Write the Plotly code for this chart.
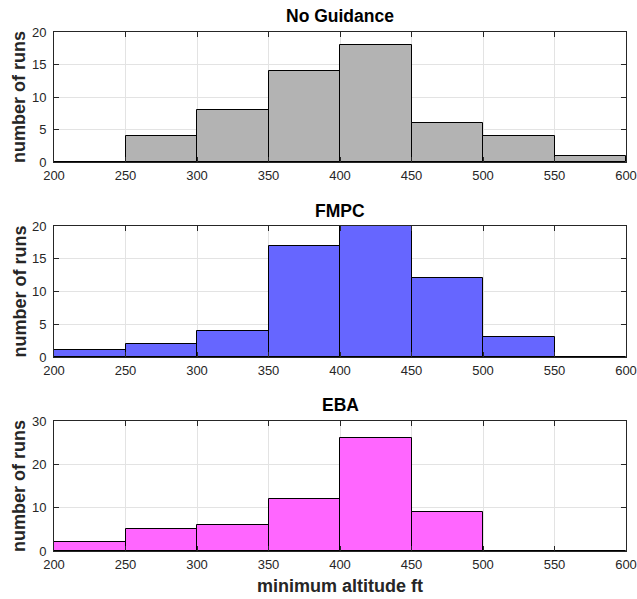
import plotly.graph_objects as go

# Histogram bin edges (minimum altitude, ft) and counts per guidance scheme
bin_edges = [200, 250, 300, 350, 400, 450, 500, 550, 600]
no_guidance_counts = [0, 4, 8, 14, 18, 6, 4, 1]
fmpc_counts = [1, 2, 4, 17, 20, 12, 3, 0]
eba_counts = [2, 5, 6, 12, 26, 9, 0, 0]

titles = ["No Guidance", "FMPC", "EBA"]
fills = ["#b3b3b3", "#6666ff", "#ff66ff"]
y_ranges = [[0, 20], [0, 20], [0, 30]]
y_ticks = [[0, 5, 10, 15, 20], [0, 5, 10, 15, 20], [0, 10, 20, 30]]
x_ticks = [200, 250, 300, 350, 400, 450, 500, 550, 600]

W, H = 637, 599
# plot areas in pixels: (top, bottom), and title centre heights
areas = [(32, 162), (226, 357), (421, 551)]
title_y = [16, 211, 405]
x_left, x_right = 54, 626

centers = [(a + b) / 2 for a, b in zip(bin_edges[:-1], bin_edges[1:])]
widths = [b - a for a, b in zip(bin_edges[:-1], bin_edges[1:])]

fig = go.Figure()
font = "Liberation Sans, Arial, Helvetica, sans-serif"
axis_color = "#262626"


def px_x(v):
    return v / W


def px_y(v):
    return 1 - v / H


for i, counts in enumerate([no_guidance_counts, fmpc_counts, eba_counts]):
    n = "" if i == 0 else str(i + 1)
    fig.add_trace(go.Bar(
        x=centers, y=counts, width=widths,
        marker=dict(color=fills[i], line=dict(color="#000000", width=1)),
        xaxis="x" + n, yaxis="y" + n, showlegend=False,
    ))
    top, bottom = areas[i]
    common = dict(
        showline=True, linecolor=axis_color, linewidth=1, mirror="ticks",
        ticks="inside", ticklen=5, tickcolor=axis_color,
        showgrid=True, gridcolor="#e3e3e3", gridwidth=1, zeroline=False,
        tickfont=dict(family=font, size=13, color="#262626"),
        automargin=False,
    )
    fig.layout["xaxis" + n] = dict(
        domain=[px_x(x_left), px_x(x_right)], range=[200, 600],
        tickvals=x_ticks, anchor="y" + n, ticklabelstandoff=1, **common,
    )
    fig.layout["yaxis" + n] = dict(
        domain=[px_y(bottom), px_y(top)], range=y_ranges[i],
        tickvals=y_ticks[i], anchor="x" + n, ticklabelstandoff=4, **common,
    )
    # subplot title
    fig.add_annotation(
        text="<b>" + titles[i] + "</b>", xref="paper", yref="paper",
        x=px_x((x_left + x_right) / 2), y=px_y(title_y[i]),
        xanchor="center", yanchor="middle", showarrow=False,
        font=dict(family=font, size=17.5, color="#000000"),
    )
    # y-axis label
    fig.add_annotation(
        text="<b>number of runs</b>", xref="paper", yref="paper",
        x=px_x(19), y=px_y((top + bottom) / 2), textangle=-90,
        xanchor="center", yanchor="middle", showarrow=False,
        font=dict(family=font, size=18, color="#262626"),
    )

# x-axis label under the bottom subplot
fig.add_annotation(
    text="<b>minimum altitude ft</b>", xref="paper", yref="paper",
    x=px_x((x_left + x_right) / 2), y=px_y(586),
    xanchor="center", yanchor="middle", showarrow=False,
    font=dict(family=font, size=18, color="#262626"),
)

fig.update_layout(
    width=W, height=H, margin=dict(l=0, r=0, t=0, b=0),
    paper_bgcolor="white", plot_bgcolor="white", bargap=0,
)

fig.write_html("out.html")
